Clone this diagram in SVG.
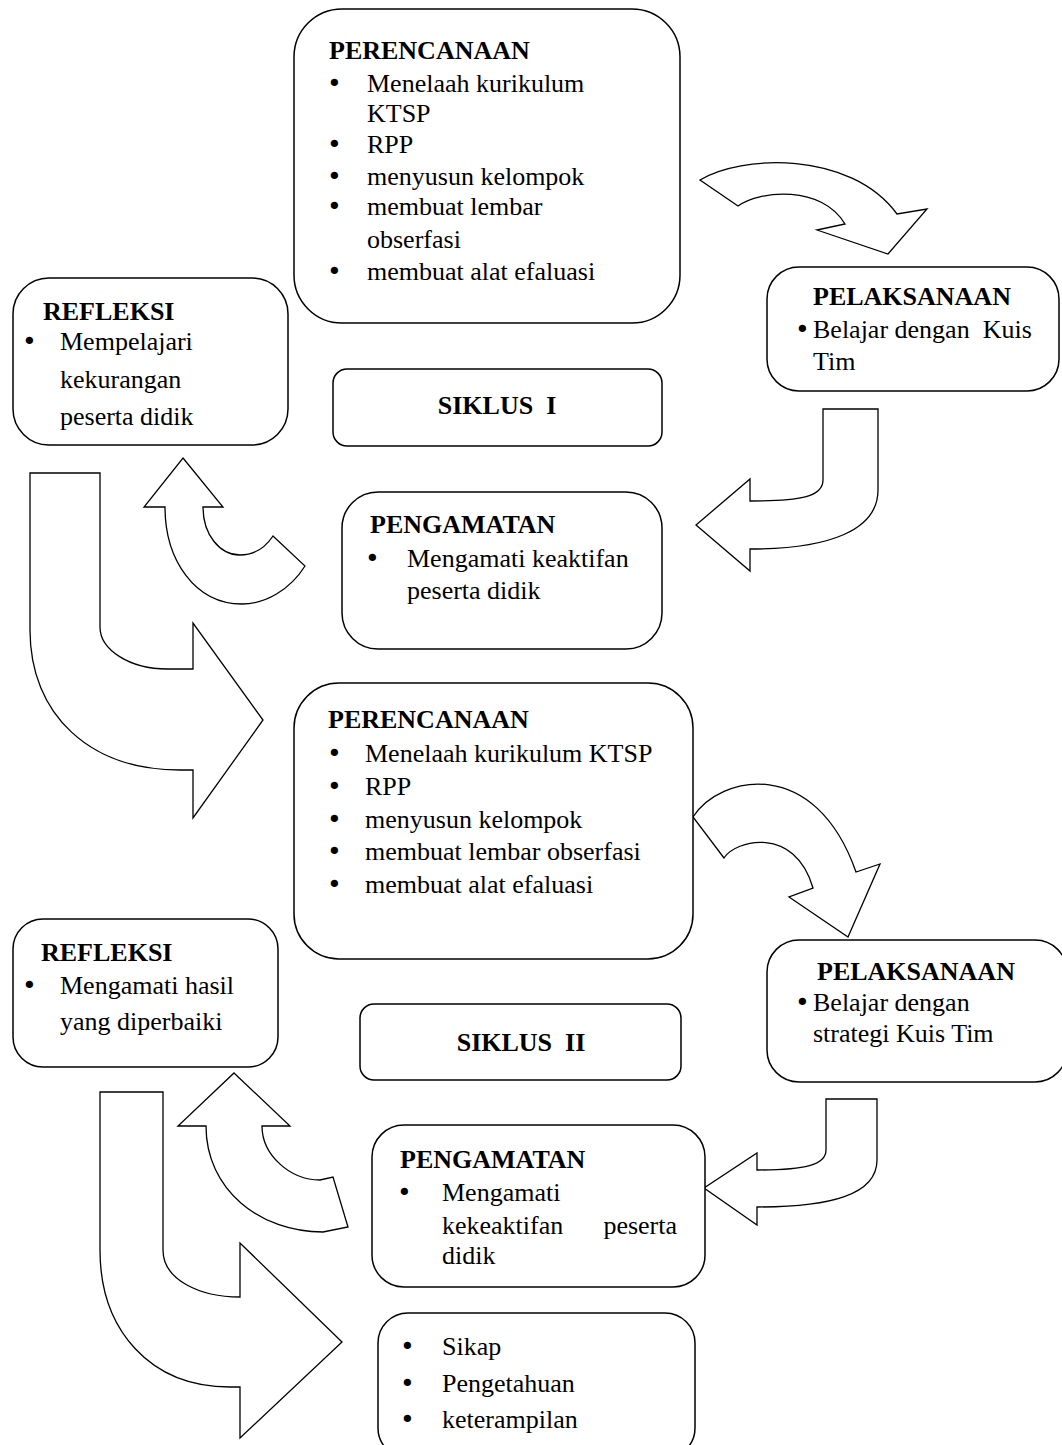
<svg xmlns="http://www.w3.org/2000/svg" width="1062" height="1445" viewBox="0 0 1062 1445">
<style>
.box{fill:#fff;stroke:#000;stroke-width:1.5}
.arr{fill:#fff;stroke:#000;stroke-width:1.3;stroke-linejoin:miter}
text{font-family:"Liberation Serif","Times New Roman",serif;font-size:26px;fill:#000;white-space:pre}
.b{font-weight:bold}
text.bu{font-family:"DejaVu Sans",sans-serif;font-size:25px}
</style>
<rect width="1062" height="1445" fill="#fff"/>
<g id="connectors">
<path class="arr" d="M700,180 C740,155 850,150 897,214 L927,209 L888,254 L817,230 L845,224 C822,185 760,190 738,206 Z"/>
<path class="arr" d="M823,409 L878,409 L878,490 C878,530 830,549 750,549 L750,571 L696,525 L750,479 L750,501 C800,501 823,497 823,480 Z"/>
<path class="arr" d="M183,458 L223,507 L203,507 C203,535 220,555 240,555 C255,555 265,548 273,536 L305,566 C290,590 265,604 242,604 C195,604 165,560 165,507 L144,507 Z"/>
<path class="arr" d="M30,473 L100,473 L100,627 C100,650 130,669 167,669 L193,669 L193,623 L263,720 L193,818 L193,770 L180,770 C90,770 30,715 30,630 Z"/>
<path class="arr" d="M693,817 C720,775 815,755 856,872 L880,864 L848,937 L789,897 L813,888 C795,825 735,840 724,858 Z"/>
<path class="arr" d="M826,1099 L877,1099 L877,1160 C877,1195 830,1207 757,1207 L757,1225 L704,1188 L757,1153 L757,1170 C805,1170 826,1165 826,1150 Z"/>
<path class="arr" d="M234,1073 L290,1126 L262,1126 C262,1155 290,1180 320,1180 L333,1177 L348,1227 L323,1232 C260,1232 206,1190 206,1126 L178,1126 Z"/>
<path class="arr" d="M100,1092 L163,1092 L163,1250 C163,1280 200,1297 240,1297 L240,1243 L342,1342 L240,1438 L240,1387 L230,1387 C150,1387 100,1330 100,1250 Z"/>
</g>
<g id="perencanaan1">
<rect class="box" x="294" y="9" width="386" height="314" rx="48"/>
<text class="b" x="329" y="59">PERENCANAAN</text>
<text class="bu" x="327" y="92">•</text><text x="367" y="92">Menelaah kurikulum</text>
<text x="367" y="122">KTSP</text>
<text class="bu" x="327" y="153">•</text><text x="367" y="153">RPP</text>
<text class="bu" x="327" y="185">•</text><text x="367" y="185">menyusun kelompok</text>
<text class="bu" x="327" y="215">•</text><text x="367" y="215">membuat lembar</text>
<text x="367" y="248">obserfasi</text>
<text class="bu" x="327" y="280">•</text><text x="367" y="280">membuat alat efaluasi</text>
</g>
<g id="refleksi1">
<rect class="box" x="13" y="278" width="275" height="167" rx="36"/>
<text class="b" x="43" y="320">REFLEKSI</text>
<text class="bu" x="22" y="350">•</text><text x="60" y="350">Mempelajari</text>
<text x="60" y="388">kekurangan</text>
<text x="60" y="425">peserta didik</text>
</g>
<g id="pelaksanaan1">
<rect class="box" x="767" y="267" width="292" height="124" rx="32"/>
<text class="b" x="813" y="305">PELAKSANAAN</text>
<text class="bu" x="795" y="338">•</text><text x="813" y="338">Belajar dengan  Kuis</text>
<text x="813" y="370">Tim</text>
</g>
<g id="siklus1">
<rect class="box" x="333" y="369" width="329" height="77" rx="14"/>
<text class="b" x="497" y="414" text-anchor="middle">SIKLUS  I</text>
</g>
<g id="pengamatan1">
<rect class="box" x="342" y="492" width="320" height="157" rx="36"/>
<text class="b" x="370" y="533">PENGAMATAN</text>
<text class="bu" x="365" y="567">•</text><text x="407" y="567">Mengamati keaktifan</text>
<text x="407" y="599">peserta didik</text>
</g>
<g id="perencanaan2">
<rect class="box" x="294" y="683" width="399" height="276" rx="45"/>
<text class="b" x="328" y="728">PERENCANAAN</text>
<text class="bu" x="327" y="762">•</text><text x="365" y="762">Menelaah kurikulum KTSP</text>
<text class="bu" x="327" y="795">•</text><text x="365" y="795">RPP</text>
<text class="bu" x="327" y="828">•</text><text x="365" y="828">menyusun kelompok</text>
<text class="bu" x="327" y="860">•</text><text x="365" y="860">membuat lembar obserfasi</text>
<text class="bu" x="327" y="893">•</text><text x="365" y="893">membuat alat efaluasi</text>
</g>
<g id="refleksi2">
<rect class="box" x="13" y="919" width="265" height="148" rx="30"/>
<text class="b" x="41" y="961">REFLEKSI</text>
<text class="bu" x="22" y="994">•</text><text x="60" y="994">Mengamati hasil</text>
<text x="60" y="1030">yang diperbaiki</text>
</g>
<g id="pelaksanaan2">
<rect class="box" x="767" y="940" width="300" height="142" rx="32"/>
<text class="b" x="817" y="980">PELAKSANAAN</text>
<text class="bu" x="795" y="1011">•</text><text x="813" y="1011">Belajar dengan</text>
<text x="813" y="1042">strategi Kuis Tim</text>
</g>
<g id="siklus2">
<rect class="box" x="360" y="1004" width="321" height="76" rx="14"/>
<text class="b" x="521" y="1051" text-anchor="middle">SIKLUS  II</text>
</g>
<g id="pengamatan2">
<rect class="box" x="372" y="1125" width="333" height="162" rx="32"/>
<text class="b" x="400" y="1168">PENGAMATAN</text>
<text class="bu" x="397" y="1201">•</text><text x="442" y="1201">Mengamati</text>
<text x="442" y="1234">kekeaktifan</text><text x="677" y="1234" text-anchor="end">peserta</text>
<text x="442" y="1264">didik</text>
</g>
<g id="hasil">
<rect class="box" x="378" y="1313" width="317" height="145" rx="30"/>
<text class="bu" x="400" y="1355">•</text><text x="442" y="1355">Sikap</text>
<text class="bu" x="400" y="1392">•</text><text x="442" y="1392">Pengetahuan</text>
<text class="bu" x="400" y="1428">•</text><text x="442" y="1428">keterampilan</text>
</g>
</svg>
